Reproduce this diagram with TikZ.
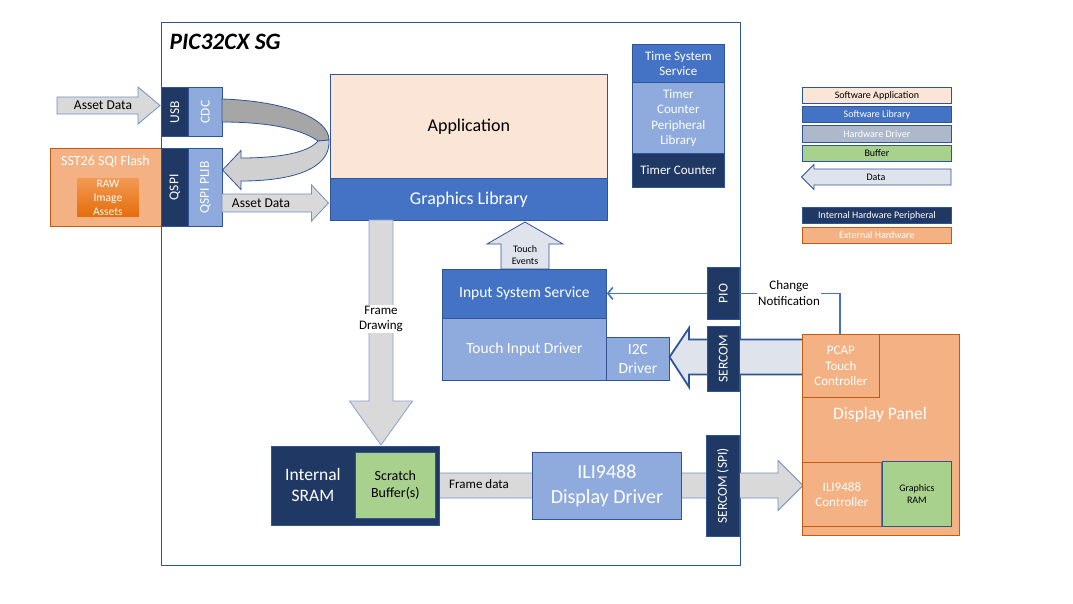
\documentclass[tikz,border=0pt]{standalone}
\usepackage{fontspec}
\setmainfont{Carlito}
\usetikzlibrary{arrows.meta,calc}
\definecolor{navy}{HTML}{203864}
\definecolor{mblue}{HTML}{4472C4}
\definecolor{lblue}{HTML}{8FAADC}
\definecolor{peach}{HTML}{FBE5D6}
\definecolor{orng}{HTML}{F4B183}
\definecolor{orngdk}{HTML}{C55A11}
\definecolor{grn}{HTML}{A9D18E}
\definecolor{bord}{HTML}{2F5597}
\definecolor{gry}{HTML}{D9D9D9}
\definecolor{hwd}{HTML}{ADB9CA}
\definecolor{pale}{HTML}{DEE3EC}
\definecolor{darkband}{HTML}{A6A6A6}
\definecolor{lightband}{HTML}{D0D0D0}
\definecolor{rawtop}{HTML}{F39A55}
\definecolor{rawbot}{HTML}{E46C0A}
\definecolor{arrbord}{HTML}{6F8FC5}
\newcommand\mybox[7]{\node[#2, anchor=north west, minimum width=#5pt, minimum height=#6pt] (#1) at (#3,#4) {#7};}
% style, xtail, xbase, xtip, yc, halfbody, halfhead
\newcommand\harr[7]{\draw[#1] (#2,#5-#6) -- (#3,#5-#6) -- (#3,#5-#7) -- (#4,#5) -- (#3,#5+#7) -- (#3,#5+#6) -- (#2,#5+#6) -- cycle;}
% style, ytail, ybase, ytip, xc, halfbody, halfhead
\newcommand\varr[7]{\draw[#1] (#5-#6,#2) -- (#5-#6,#3) -- (#5-#7,#3) -- (#5,#4) -- (#5+#7,#3) -- (#5+#6,#3) -- (#5+#6,#2) -- cycle;}
\begin{document}
\begin{tikzpicture}[x=1pt,y=-1pt,
  base/.style={draw=bord, line width=0.8pt, inner sep=1pt, align=center},
  sapp/.style={base, fill=peach, text=black},
  slib/.style={base, fill=mblue, text=white},
  sdrv/.style={base, fill=lblue, text=white},
  shw/.style={base, fill=navy, text=white},
  sext/.style={base, draw=orngdk, fill=orng, text=white},
  sbuf/.style={base, fill=grn, text=black},
  blk/.style={draw=arrbord, line width=0.8pt, fill=gry},
  blkp/.style={draw=bord, line width=0.8pt, fill=pale},
  lbl/.style={align=center, inner sep=1pt},
  rot/.style={rotate=90, text=white, font=\fontsize{13.5}{16}\selectfont},
  fa/.style={font=\fontsize{10}{12}\selectfont},
  fb/.style={font=\fontsize{11.5}{14}\selectfont},
  fc/.style={font=\fontsize{13}{15.5}\selectfont},
  fd/.style={font=\fontsize{14}{17}\selectfont},
  fe/.style={font=\fontsize{15.5}{18.5}\selectfont},
  ff/.style={font=\fontsize{17.5}{21.5}\selectfont},
  fg/.style={font=\fontsize{20}{25}\selectfont}]
\useasboundingbox (0,0) rectangle (1073,603);
\fill[white] (0,0) rectangle (1073,603);

% chip
\mybox{chip}{draw=bord, line width=0.8pt, fill=white}{161}{22}{579}{543}{}
\node[anchor=west, font=\bfseries\itshape\fontsize{23.5}{27}\selectfont] (title) at (166,42) {PIC32CX SG};

% top asset data arrow
\harr{blk}{57}{138}{160}{105.5}{8.5}{18.5}
\node[lbl, font=\fontsize{13.5}{16}\selectfont] (ad1) at (103,105.5) {Asset Data};

% flash
\mybox{flash}{sext}{50}{148}{111}{78}{}
\node[lbl, fd, text=white] (flasht) at (105.5,162) {SST26 SQI Flash};
\node[anchor=north west, minimum width=63pt, minimum height=40pt, draw=orng, line width=0.8pt, top color=rawtop, bottom color=rawbot, text=white, align=center, inner sep=0pt, fb] (raw) at (76,177) {RAW\\Image\\Assets};

% usb / qspi
\mybox{usb}{shw}{161}{87}{27}{49}{}
\node[rot] at (usb.center) {USB};
\mybox{cdc}{sdrv}{188}{87}{34}{49}{}
\node[rot] at (cdc.center) {CDC};
\mybox{qspi}{shw}{161}{148}{27}{78}{}
\node[rot] at (qspi.center) {QSPI};
\mybox{qplib}{sdrv}{188}{148}{34}{78}{}
\node[rot] at (qplib.center) {QSPI PLIB};

% curved arrow
\draw[draw=bord, line width=0.8pt, fill=darkband] (222,99) .. controls (285,101) and (329,118) .. (329,140) -- (318,141) .. controls (300,128) and (265,122) .. (222,122) -- cycle;
\draw[draw=bord, line width=0.8pt, fill=lightband] (318,141) -- (329,140) .. controls (331,170) and (290,181) .. (241,181) -- (241,189.5) -- (222.5,170) -- (241,150.5) -- (241,158) .. controls (285,158) and (310,151) .. (318,141) -- cycle;

% application
\mybox{app}{sapp, font=\fontsize{18}{22}\selectfont}{330}{74}{277}{104}{Application}
\mybox{glib}{slib, font=\fontsize{18}{22}\selectfont}{330}{178}{277}{42}{Graphics Library}

% bottom asset data arrow
\harr{blk}{222}{311.5}{328.5}{203}{9}{18}
\node[lbl, font=\fontsize{13.5}{16}\selectfont] (ad2) at (261,203) {Asset Data};

% time system stack
\mybox{tss}{slib, fc}{632}{44}{92}{38}{Time System\\Service}
\mybox{tcpl}{sdrv, fc}{632}{82}{92}{71}{Timer\\Counter\\Peripheral\\Library}
\mybox{tc}{shw, fc}{632}{153}{92}{34}{Timer Counter}

% frame drawing arrow
\varr{draw=lblue!90!bord, line width=0.8pt, fill=gry}{220}{401}{445}{381}{12}{31.5}
\node[lbl, fc, fill=white] (fdraw) at (381,319) {Frame\\Drawing};

% touch events arrow
\varr{blkp}{269}{244}{222}{525}{24}{38}
\node[lbl, fa] (tev) at (525,255) {Touch\\Events};

% input stack
\mybox{iss}{slib, fe}{442}{269}{164}{49}{Input System Service}
\mybox{tid}{sdrv, fe}{442}{318}{164}{62}{Touch Input Driver}
\mybox{i2c}{sdrv, fe}{606}{337}{63}{43}{I2C\\Driver}

% big sercom arrow
\draw[draw=bord, line width=1.8pt, fill=pale] (802,339.5) -- (689,339.5) -- (689,328) -- (669.5,357) -- (689,387) -- (689,374.5) -- (802,374.5);
\mybox{pio}{shw}{707}{267}{32}{52}{}
\node[rot] at (pio.center) {PIO};
\mybox{sercom}{shw}{707}{326}{32}{65}{}
\node[rot] at (sercom.center) {SERCOM};

% frame data arrow
\harr{blk}{439}{778}{803}{485.5}{12.5}{25}
\node[lbl, fc] (fdata) at (479,484) {Frame data};

% sram
\mybox{sram}{shw, ff}{271}{446}{168}{79}{}
\node[lbl, ff, text=white] (sramt) at (313,485) {Internal\\SRAM};
\mybox{scratch}{sbuf, fd}{355}{452}{80}{66}{Scratch\\Buffer(s)}
\mybox{ilid}{sdrv, fg}{532}{452}{149}{67}{ILI9488\\Display Driver}
\mybox{spi}{shw}{706}{435}{33}{101}{}
\node[rot] at (spi.center) {SERCOM (SPI)};

% display panel
\mybox{panel}{sext}{802}{334}{157}{201}{}
\node[lbl, ff, text=white] (panelt) at (880,415) {Display Panel};
\mybox{pcap}{sext, fc}{802}{334}{77}{63}{PCAP\\Touch\\Controller}
\mybox{ilic}{sext, fc}{802}{462}{79}{64}{ILI9488\\Controller}
\mybox{gram}{sbuf, fa}{882}{461}{69}{65}{Graphics\\RAM}

% change notification
\coordinate (cn) at (840,334);
\draw[mblue, line width=1.6pt] (cn) |- (pio.east);
\node[lbl, fc, fill=white] (cnt) at (789,293) {Change\\Notification};
\draw[mblue, line width=1.6pt, -{Straight Barb[length=5pt,width=12pt]}] (pio.west) -- (pio.west -| iss.east);

% legend
\mybox{lsa}{sapp, fa}{802}{87}{149}{16}{Software Application}
\mybox{lsl}{slib, fa}{802}{106}{149}{16}{Software Library}
\mybox{lhd}{base, fill=hwd, text=white, fa}{802}{125}{149}{17}{Hardware Driver}
\mybox{lbf}{sbuf, fa}{802}{145}{149}{16}{Buffer}
\harr{blkp}{951}{814}{801.5}{177}{8}{12.5}
\node[lbl, fa] (ldata) at (876,177) {Data};
\mybox{lihp}{shw, fa}{802}{207}{149}{16}{Internal Hardware Peripheral}
\mybox{leh}{sext, fa}{802}{227}{149}{16}{External Hardware}
\end{tikzpicture}
\end{document}
